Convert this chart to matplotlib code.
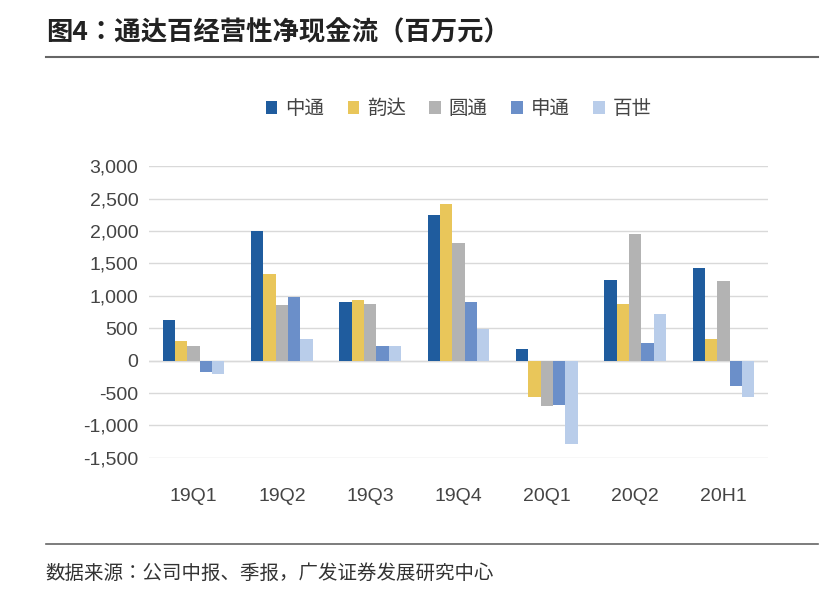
import matplotlib
matplotlib.use("Agg")
import matplotlib.pyplot as plt
from matplotlib import font_manager as fm
import numpy as np

names = {f.name for f in fm.fontManager.ttflist}
cjk = None
for cand in ["Noto Sans CJK SC", "Noto Sans CJK JP", "Noto Sans CJK TC", "Noto Sans CJK KR"]:
    if cand in names:
        cjk = cand
        break
if cjk is None:
    for n in sorted(names):
        if "CJK" in n and "Sans" in n:
            cjk = n
            break
plt.rcParams["font.family"] = [cjk or "Noto Sans CJK SC", "DejaVu Sans"]

categories = ["19Q1", "19Q2", "19Q3", "19Q4", "20Q1", "20Q2", "20H1"]
series_names = ["中通", "韵达", "圆通", "申通", "百世"]
zto = [630, 2000, 900, 2250, 180, 1240, 1430]
yunda = [300, 1330, 940, 2420, -560, 880, 330]
yto = [230, 860, 870, 1810, -700, 1950, 1220]
sto = [-170, 980, 230, 900, -680, 270, -390]
best = [-200, 330, 230, 490, -1280, 720, -560]
values = [zto, yunda, yto, sto, best]
colors = ["#1f5c9e", "#e9c65a", "#b3b3b3", "#6b8fc9", "#b9cdea"]
yticks = [3000, 2500, 2000, 1500, 1000, 500, 0, -500, -1000, -1500]

fig = plt.figure(figsize=(8.3, 6.04), dpi=100)
fig.patch.set_facecolor("white")
fig.text(0.055, 0.945, "图4：通达百经营性净现金流（百万元）", fontsize=19, fontweight="bold",
         color="#222222", va="center")
fig.add_artist(plt.Line2D([0.055, 0.985], [0.905, 0.905], color="#666666", lw=1.5))
fig.add_artist(plt.Line2D([0.055, 0.985], [0.1, 0.1], color="#666666", lw=1.2))
fig.text(0.055, 0.05, "数据来源：公司中报、季报，广发证券发展研究中心", fontsize=14,
         color="#333333", va="center")

ax = fig.add_axes([0.18, 0.242, 0.745, 0.483])
x = np.arange(len(categories))
w = 0.14
for i, (vals, c, n) in enumerate(zip(values, colors, series_names)):
    ax.bar(x + (i - 2) * w, vals, w, color=c, label=n, zorder=3)
ax.set_ylim(-1500, 3000)
ax.set_xlim(-0.5, len(categories) - 0.5)
ax.set_yticks(yticks)
ax.set_yticklabels([f"{v:,}" for v in yticks], fontsize=14, color="#444444",
                   fontfamily="Liberation Sans")
ax.set_xticks(x)
ax.set_xticklabels(categories, fontsize=14, color="#444444", fontfamily="Liberation Sans")
ax.tick_params(length=0, pad=8)
ax.tick_params(axis="x", pad=22)
ax.grid(axis="y", color="#d9d9d9", lw=1, zorder=0)
ax.axhline(0, color="#d9d9d9", lw=1, zorder=1)
for s in ax.spines.values():
    s.set_visible(False)
ax.legend(loc="lower center", bbox_to_anchor=(0.5, 1.1), ncol=5, frameon=False,
          fontsize=14, handlelength=0.6, handleheight=0.6, columnspacing=1.2,
          handletextpad=0.4, labelcolor="#444444")
fig.savefig("out.png", dpi=100)
